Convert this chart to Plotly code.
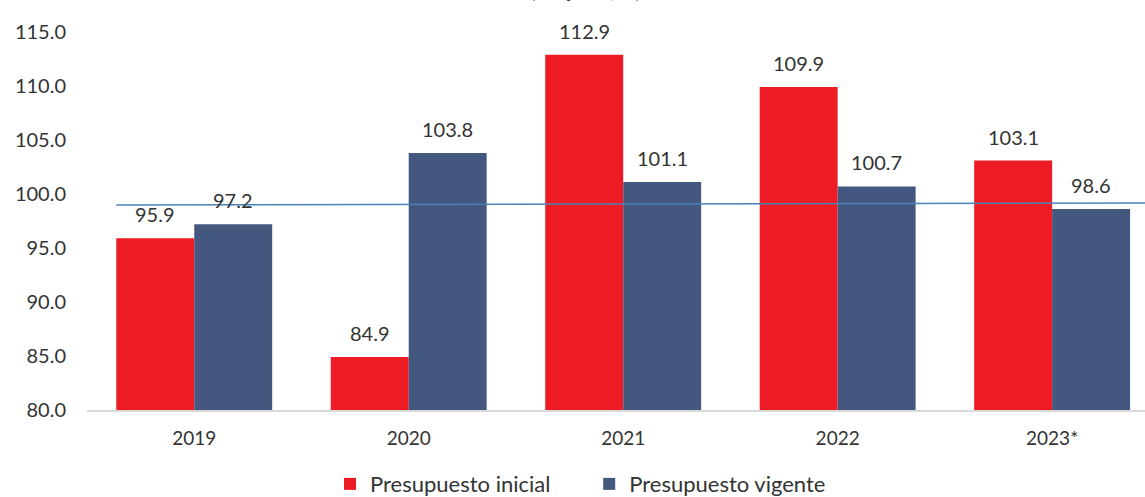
import plotly.graph_objects as go

anios = ["2019", "2020", "2021", "2022", "2023*"]
presupuesto_inicial = [95.9, 84.9, 112.9, 109.9, 103.1]
presupuesto_vigente = [97.2, 103.8, 101.1, 100.7, 98.6]
linea_x = [-0.364, 4.45]
linea_y = [98.98, 99.17]
y_ticks = [80, 85, 90, 95, 100, 105, 110, 115]

ROJO = "#ED1C24"
AZUL = "#44587F"
LINEA = "#4A82B8"
TXT = "#333333"
FONT = "Lato"

BARGAP = 0.273
xpos = list(range(len(anios)))
half = (1 - BARGAP) / 4

fig = go.Figure()
fig.add_trace(go.Bar(x=xpos, y=presupuesto_inicial, name="Presupuesto inicial      ",
                     marker=dict(color=ROJO, line=dict(width=0))))
fig.add_trace(go.Bar(x=xpos, y=presupuesto_vigente, name="Presupuesto vigente",
                     marker=dict(color=AZUL, line=dict(width=0))))
fig.add_trace(go.Scatter(x=linea_x, y=linea_y, mode="lines", showlegend=False,
                         line=dict(color=LINEA, width=1.6), hoverinfo="skip"))

annotations = []
for i, (a, b) in enumerate(zip(presupuesto_inicial, presupuesto_vigente)):
    for xv, yv in ((i - half, a), (i + half, b)):
        annotations.append(dict(x=xv, y=yv, text=f"{yv:.1f}", showarrow=False,
                                xref="x", yref="y", yanchor="bottom", yshift=10,
                                font=dict(family=FONT, size=20, color=TXT)))
annotations.append(dict(x=0.471, y=1.112, xref="paper", yref="paper",
                        text="(Reajuste, %)", showarrow=False, yanchor="middle",
                        font=dict(family=FONT, size=20, color=TXT)))

fig.update_layout(
    width=1145, height=497,
    margin=dict(l=87, r=0, t=32, b=87, autoexpand=False),
    paper_bgcolor="white", plot_bgcolor="white",
    barmode="group", bargap=BARGAP, bargroupgap=0,
    font=dict(family=FONT, size=19, color=TXT),
    annotations=annotations,
    legend=dict(orientation="h", x=0.507, xanchor="center", xref="container",
                y=0.026, yanchor="middle", yref="container",
                font=dict(family=FONT, size=22, color=TXT),
                traceorder="normal"),
    xaxis=dict(range=[-0.5, 4.433], tickvals=xpos, ticktext=anios, showgrid=False,
               zeroline=False, showline=True, linecolor="#D9D9D9", linewidth=2,
               ticks="", tickfont=dict(size=19, color=TXT), ticklabelstandoff=10,
               automargin=False),
    yaxis=dict(range=[80, 115], tickvals=y_ticks, ticktext=[f"{v:.1f}" for v in y_ticks],
               showgrid=False, zeroline=False, showline=False, ticks="",
               tickfont=dict(size=20, color=TXT), ticklabelstandoff=20,
               automargin=False),
)

fig.write_html("out.html")
